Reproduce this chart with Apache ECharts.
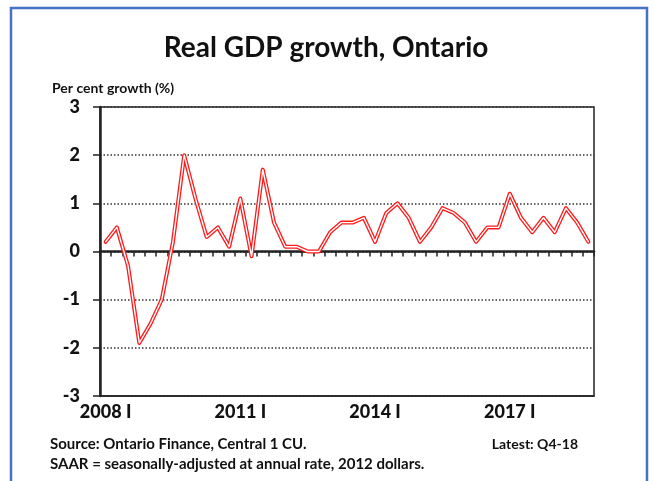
<!DOCTYPE html>
<html><head><meta charset="utf-8">
<script src="https://cdn.jsdelivr.net/npm/echarts@6/dist/echarts.min.js"></script>
<style>html,body{margin:0;padding:0;background:#fff}#c{width:653px;height:481px}</style>
</head><body><div id="c"></div>
<script>
const titleText = 'Real GDP growth, Ontario';
const yAxisTitle = 'Per cent growth (%)';
const sourceText = 'Source: Ontario Finance, Central 1 CU.';
const latestText = 'Latest: Q4-18';
const noteText = 'SAAR = seasonally-adjusted at annual rate, 2012 dollars.';
const romans = ['I','II','III','IV'];
const years = [2008,2009,2010,2011,2012,2013,2014,2015,2016,2017,2018];
const categories = [];
years.forEach(y => romans.forEach(q => categories.push(y + ' ' + q)));
const tickLabels = ['2008 I','2011 I','2014 I','2017 I'];
const gdpGrowth = [
  0.2, 0.5, -0.3, -1.9, -1.5, -1.0, 0.2, 2.0, 1.1, 0.3, 0.5, 0.1,
  1.1, -0.1, 1.7, 0.6, 0.1, 0.1, 0.0, 0.0, 0.4, 0.6, 0.6, 0.7,
  0.2, 0.8, 1.0, 0.7, 0.2, 0.5, 0.9, 0.8, 0.6, 0.2, 0.5, 0.5,
  1.2, 0.7, 0.4, 0.7, 0.4, 0.9, 0.6, 0.2
];
const yTicks = [-3,-2,-1,0,1,2,3];

const FONT = 'Lato, "Open Sans", sans-serif';
const chart = echarts.init(document.getElementById('c'), null, {renderer:'canvas'});
chart.setOption({
  animation: false,
  backgroundColor: '#fff',
  grid: {left: 100, right: 59, top: 107, bottom: 85, show: true, borderColor: '#222', borderWidth: 1.5, backgroundColor: 'transparent'},
  xAxis: [{
    type: 'category', data: categories, boundaryGap: true,
    axisLine: {onZero: true, lineStyle: {color: '#222', width: 2.5}},
    axisTick: {show: true, inside: false, length: 5, interval: 0, lineStyle: {color: '#222', width: 1.5}},
    axisLabel: {show: false}, splitLine: {show: false}
  }, {
    type: 'category', data: categories, boundaryGap: true, position: 'bottom',
    axisLine: {show: true, onZero: false, lineStyle: {color: '#222', width: 1.5}},
    axisTick: {show: false},
    axisLabel: {show: true, interval: 0, margin: 7,
      formatter: v => tickLabels.indexOf(v) >= 0 ? v : '',
      fontFamily: FONT, fontWeight: 900, fontSize: 18, color: '#111'},
    splitLine: {show: false}
  }],
  yAxis: {
    type: 'value', min: yTicks[0], max: yTicks[yTicks.length-1], interval: 1,
    axisLine: {show: true, onZero: false, lineStyle: {color: '#222', width: 2.5}},
    axisTick: {show: true, inside: false, length: 7, lineStyle: {color: '#222', width: 1.5}},
    axisLabel: {margin: 20, fontFamily: FONT, fontWeight: 900, fontSize: 18, color: '#111'},
    splitLine: {show: true, lineStyle: {color: '#333', width: 1.5, type: [1.5, 2]}}
  },
  series: [{
    type: 'line', xAxisIndex: 0, data: gdpGrowth, symbol: 'none',
    lineStyle: {color: '#ff1a1a', width: 4, cap: 'round', join: 'round'}, z: 3
  }, {
    type: 'line', xAxisIndex: 0, data: gdpGrowth, symbol: 'none',
    lineStyle: {color: '#ffffff', width: 1.4, cap: 'round', join: 'round'}, z: 4
  }],
  graphic: [
    {type: 'rect', shape: {x: 11, y: 8, width: 636, height: 520}, style: {fill: 'none', stroke: '#4472c4', lineWidth: 2.5}, z: 10},
    {type: 'text', x: 326, y: 48, style: {text: titleText, font: 'bold 28px ' + FONT, fill: '#111', textAlign: 'center', textVerticalAlign: 'middle'}},
    {type: 'text', x: 52, y: 88, style: {text: yAxisTitle, font: 'bold 14px ' + FONT, fill: '#111', textAlign: 'left', textVerticalAlign: 'middle'}},
    {type: 'text', x: 50, y: 444, style: {text: sourceText, font: 'bold 15px ' + FONT, fill: '#111', textAlign: 'left', textVerticalAlign: 'middle'}},
    {type: 'text', x: 578, y: 444, style: {text: latestText, font: 'bold 14px ' + FONT, fill: '#111', textAlign: 'right', textVerticalAlign: 'middle'}},
    {type: 'text', x: 50, y: 464, style: {text: noteText, font: 'bold 15px ' + FONT, fill: '#111', textAlign: 'left', textVerticalAlign: 'middle'}}
  ]
});
</script></body></html>
